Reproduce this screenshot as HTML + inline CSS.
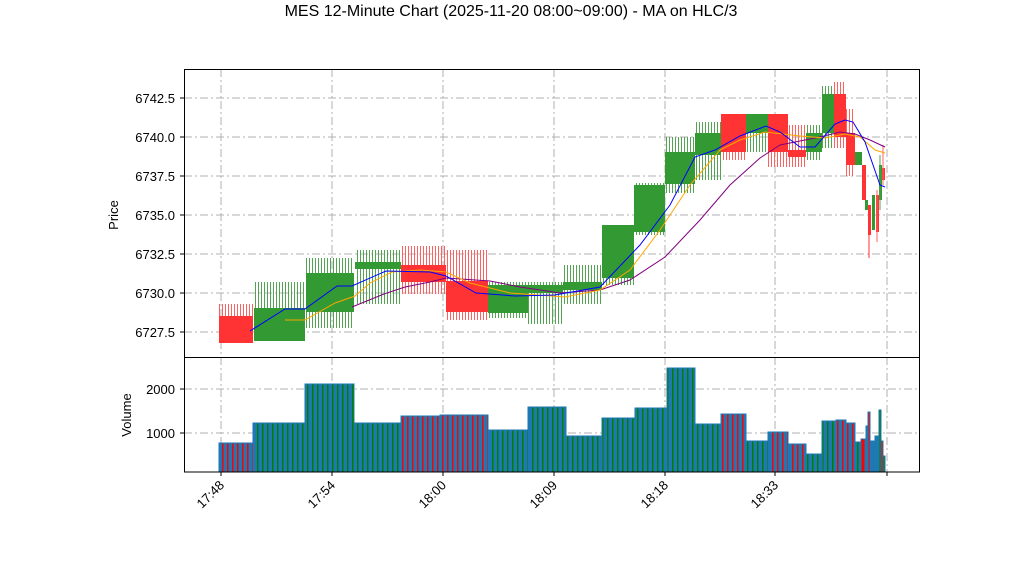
<!DOCTYPE html><html><head><style>body{margin:0;background:#fff}svg{font-family:"Liberation Sans",sans-serif}</style></head><body>
<svg width="1022" height="575" xmlns="http://www.w3.org/2000/svg">
<defs>
<pattern id="wg" width="3" height="10" patternUnits="userSpaceOnUse"><rect width="1" height="10" fill="#52a352"/></pattern>
<pattern id="wr" width="3" height="10" patternUnits="userSpaceOnUse"><rect width="1" height="10" fill="#ff6060"/></pattern>
<pattern id="vg" width="5" height="10" patternUnits="userSpaceOnUse"><rect width="5" height="10" fill="#1f77b4"/><rect x="2" width="1.5" height="10" fill="#008000"/></pattern>
<pattern id="vr" width="5" height="10" patternUnits="userSpaceOnUse"><rect width="5" height="10" fill="#1f77b4"/><rect x="2" width="1.5" height="10" fill="#ff0000"/></pattern>
<clipPath id="cp"><rect x="184" y="69" width="736" height="288"/></clipPath>
</defs>
<text x="511" y="16" font-size="16" text-anchor="middle">MES 12-Minute Chart (2025-11-20 08:00~09:00) - MA on HLC/3</text>
<g stroke="#b0b0b0" stroke-dasharray="8,3,2,3" stroke-width="1">
<line x1="184" x2="920" y1="98" y2="98"/><line x1="184" x2="920" y1="137" y2="137"/><line x1="184" x2="920" y1="176" y2="176"/><line x1="184" x2="920" y1="215" y2="215"/><line x1="184" x2="920" y1="254" y2="254"/><line x1="184" x2="920" y1="293" y2="293"/><line x1="184" x2="920" y1="332" y2="332"/>
<line x1="184" x2="920" y1="389" y2="389"/><line x1="184" x2="920" y1="433" y2="433"/>
<line x1="221" x2="221" y1="69" y2="472"/><line x1="332" x2="332" y1="69" y2="472"/><line x1="443" x2="443" y1="69" y2="472"/><line x1="554" x2="554" y1="69" y2="472"/><line x1="665" x2="665" y1="69" y2="472"/><line x1="775" x2="775" y1="69" y2="472"/><line x1="887" x2="887" y1="69" y2="472"/>
</g>
<g clip-path="url(#cp)">
<!-- wicks -->
<rect x="219" y="304" width="34" height="39" fill="url(#wr)"/>
<rect x="254" y="282" width="51" height="59" fill="url(#wg)"/>
<rect x="306" y="258" width="48" height="70" fill="url(#wg)"/>
<rect x="355" y="250" width="46" height="54" fill="url(#wg)"/>
<rect x="401" y="246" width="45" height="48" fill="url(#wr)"/>
<rect x="446" y="250" width="42" height="70" fill="url(#wr)"/>
<rect x="488" y="282" width="40" height="36" fill="url(#wg)"/>
<rect x="528" y="282" width="35" height="42" fill="url(#wg)"/>
<rect x="563" y="265" width="39" height="39" fill="url(#wg)"/>
<rect x="602" y="225" width="32" height="60" fill="url(#wg)"/>
<rect x="634" y="183" width="31" height="52" fill="url(#wg)"/>
<rect x="665" y="137" width="30" height="56" fill="url(#wg)"/>
<rect x="695" y="122" width="26" height="58" fill="url(#wg)"/>
<rect x="721" y="114" width="25" height="46" fill="url(#wr)"/>
<rect x="746" y="114" width="22" height="38" fill="url(#wg)"/>
<rect x="768" y="114" width="20" height="53" fill="url(#wr)"/>
<rect x="788" y="125" width="18" height="42" fill="url(#wr)"/>
<rect x="806" y="125" width="16" height="35" fill="url(#wg)"/>
<rect x="822" y="86" width="12" height="62" fill="url(#wg)"/>
<rect x="834" y="82" width="12" height="66" fill="url(#wr)"/>
<rect x="846" y="109" width="9" height="67" fill="url(#wr)"/>
<!-- bodies -->
<g fill="#ff3333">
<rect x="219" y="316" width="34" height="27"/><rect x="401" y="265" width="45" height="17"/><rect x="446" y="281" width="42" height="31"/>
<rect x="721" y="114" width="25" height="38"/><rect x="768" y="114" width="20" height="38"/><rect x="788" y="150" width="18" height="7"/>
<rect x="834" y="94" width="12" height="43"/><rect x="846" y="133" width="9" height="32"/>
<rect x="862" y="165" width="4" height="35"/><rect x="868" y="205" width="3" height="30"/><rect x="876" y="195" width="3" height="37"/><rect x="882" y="168" width="3" height="12"/>
</g>
<g fill="#339933">
<rect x="254" y="308" width="51" height="33"/><rect x="306" y="273" width="48" height="39"/><rect x="355" y="262" width="46" height="7"/>
<rect x="488" y="285" width="40" height="28"/><rect x="528" y="285" width="35" height="8"/><rect x="563" y="282" width="39" height="8"/>
<rect x="602" y="225" width="32" height="53"/><rect x="634" y="185" width="31" height="47"/><rect x="665" y="152" width="30" height="32"/>
<rect x="695" y="133" width="26" height="22"/><rect x="746" y="114" width="22" height="19"/><rect x="806" y="133" width="16" height="19"/>
<rect x="822" y="94" width="12" height="39"/><rect x="855" y="152" width="7" height="13"/>
<rect x="865" y="200" width="3" height="10"/><rect x="872" y="195" width="3" height="35"/><rect x="879" y="165" width="3" height="35"/>
</g>
<g stroke-width="1"><line x1="869" x2="869" y1="205" y2="258" stroke="#ff3333"/><line x1="877" x2="877" y1="190" y2="242" stroke="#ff6060"/><line x1="880" x2="880" y1="155" y2="210" stroke="#52a352"/><line x1="883" x2="883" y1="145" y2="185" stroke="#ff6060"/></g>
<g fill="none" stroke-width="1">
<polyline stroke="purple" points="352,307 384,294 405,287 430,282 446,278 490,281 520,287 560,293 600,290 630,280 665,257 700,220 730,185 760,158 780,145 800,141 820,137 840,132 855,134 870,140 885,147"/>
<polyline stroke="orange" points="285,320 305,320 335,303 355,296 370,283 392,272 420,270 446,272 470,283 510,293 565,297 600,290 630,270 660,230 690,185 720,150 740,140 765,132 800,136 825,138 845,134 860,137 875,150 885,153"/>
<polyline stroke="blue" points="250,331 285,309 305,309 337,286 352,286 386,271 430,272 446,276 476,293 515,296 555,295 600,287 640,245 670,205 695,157 715,150 740,136 766,126 780,132 800,147 815,147 835,124 845,120 853,122 865,142 880,185 885,187"/>
</g>
</g>
<!-- volume -->
<g stroke="#1f77b4" stroke-width="1">
<rect x="219" y="443" width="34" height="29" fill="url(#vr)"/>
<rect x="253" y="423" width="52" height="49" fill="url(#vg)"/>
<rect x="305" y="384" width="49" height="88" fill="url(#vg)"/>
<rect x="354" y="423" width="47" height="49" fill="url(#vg)"/>
<rect x="401" y="416" width="39" height="56" fill="url(#vr)"/>
<rect x="440" y="415" width="48" height="57" fill="url(#vr)"/>
<rect x="488" y="430" width="40" height="42" fill="url(#vg)"/>
<rect x="528" y="407" width="38" height="65" fill="url(#vg)"/>
<rect x="566" y="436" width="36" height="36" fill="url(#vg)"/>
<rect x="602" y="418" width="33" height="54" fill="url(#vg)"/>
<rect x="635" y="408" width="32" height="64" fill="url(#vg)"/>
<rect x="667" y="368" width="28" height="104" fill="url(#vg)"/>
<rect x="695" y="424" width="26" height="48" fill="url(#vg)"/>
<rect x="721" y="414" width="25" height="58" fill="url(#vr)"/>
<rect x="746" y="441" width="22" height="31" fill="url(#vg)"/>
<rect x="768" y="432" width="20" height="40" fill="url(#vr)"/>
<rect x="788" y="444" width="18" height="28" fill="url(#vr)"/>
<rect x="806" y="454" width="16" height="18" fill="url(#vg)"/>
<rect x="822" y="421" width="14" height="51" fill="url(#vg)"/>
<rect x="836" y="420" width="10" height="52" fill="url(#vr)"/>
<rect x="846" y="423" width="9" height="49" fill="url(#vr)"/>
<rect x="855" y="442" width="6" height="30" fill="url(#vg)"/>
<rect x="861" y="439" width="4" height="33" fill="#ff0000"/>
<rect x="866" y="426" width="2" height="46" fill="#1f77b4"/>
<rect x="868" y="412" width="2" height="60" fill="#ff0000"/>
<rect x="871" y="441" width="3" height="31" fill="#1f77b4"/>
<rect x="875" y="436" width="3" height="36" fill="#1f77b4"/>
<rect x="879" y="410" width="2" height="62" fill="#008000"/>
<rect x="881" y="441" width="2" height="31" fill="#ff0000"/>
<rect x="883" y="456" width="2" height="16" fill="#008000"/>
</g>
<g fill="none" stroke="#000" stroke-width="1"><rect x="184.5" y="69.5" width="735" height="288"/><rect x="184.5" y="357.5" width="735" height="114.5"/></g>
<g font-size="13" text-anchor="end">
<text x="175" y="103">6742.5</text><text x="175" y="142">6740.0</text><text x="175" y="181">6737.5</text><text x="175" y="220">6735.0</text><text x="175" y="259">6732.5</text><text x="175" y="298">6730.0</text><text x="175" y="337">6727.5</text>
<text x="175" y="394">2000</text><text x="175" y="438">1000</text>
</g>
<g stroke="#000"><line x1="180" x2="184" y1="98" y2="98"/><line x1="180" x2="184" y1="137" y2="137"/><line x1="180" x2="184" y1="176" y2="176"/><line x1="180" x2="184" y1="215" y2="215"/><line x1="180" x2="184" y1="254" y2="254"/><line x1="180" x2="184" y1="293" y2="293"/><line x1="180" x2="184" y1="332" y2="332"/><line x1="180" x2="184" y1="389" y2="389"/><line x1="180" x2="184" y1="433" y2="433"/>
<line x1="221" x2="221" y1="472" y2="476"/><line x1="332" x2="332" y1="472" y2="476"/><line x1="443" x2="443" y1="472" y2="476"/><line x1="554" x2="554" y1="472" y2="476"/><line x1="665" x2="665" y1="472" y2="476"/><line x1="775" x2="775" y1="472" y2="476"/><line x1="887" x2="887" y1="472" y2="476"/></g>
<text transform="translate(118,215) rotate(-90)" font-size="13" text-anchor="middle">Price</text>
<text transform="translate(131,415) rotate(-90)" font-size="13" text-anchor="middle">Volume</text>
<g font-size="13" text-anchor="end">
<text transform="translate(225,486) rotate(-45)">17:48</text><text transform="translate(336,486) rotate(-45)">17:54</text><text transform="translate(447,486) rotate(-45)">18:00</text><text transform="translate(558,486) rotate(-45)">18:09</text><text transform="translate(669,486) rotate(-45)">18:18</text><text transform="translate(779,486) rotate(-45)">18:33</text>
</g>
</svg></body></html>
